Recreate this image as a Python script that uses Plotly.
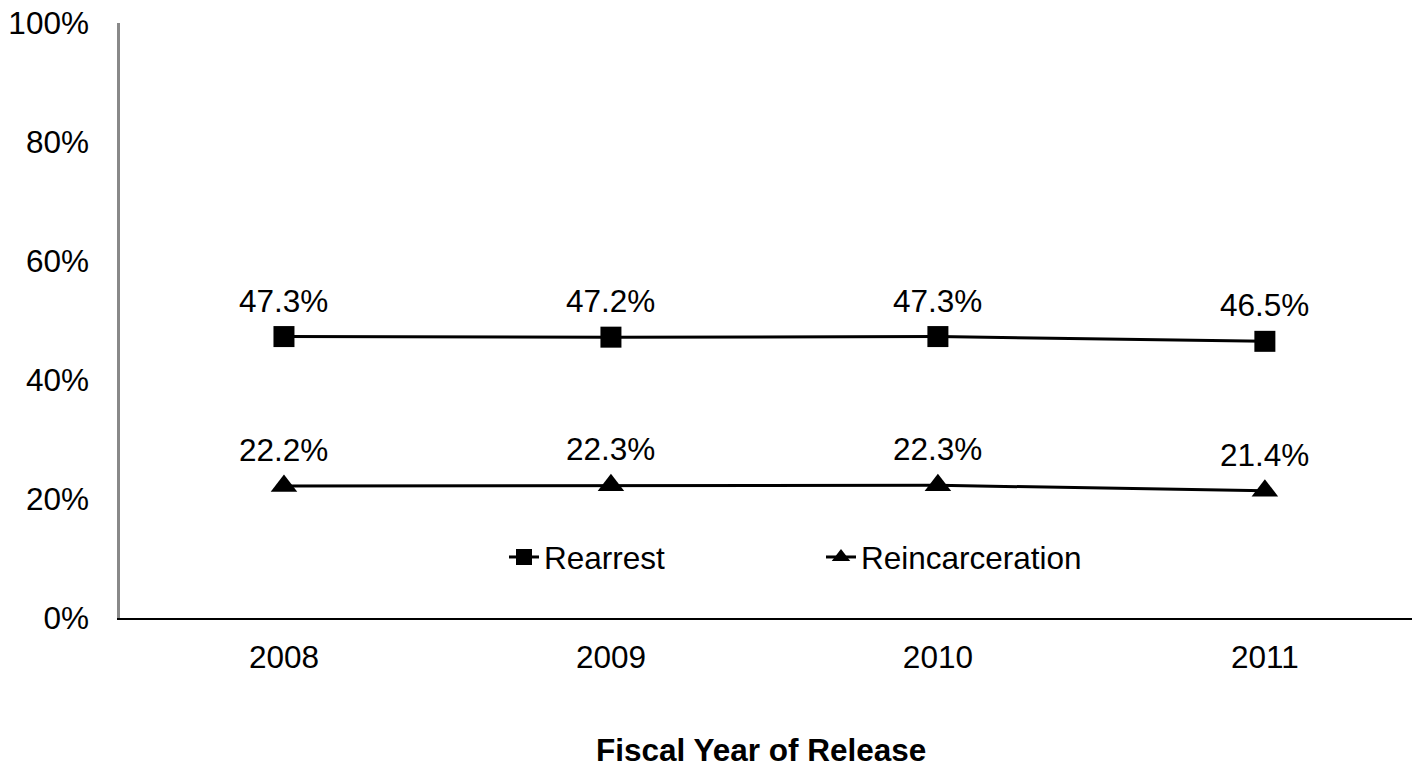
import plotly.graph_objects as go

years = ["2008", "2009", "2010", "2011"]
rearrest = [0.473, 0.472, 0.473, 0.465]
reincarceration = [0.222, 0.223, 0.223, 0.214]
y_ticks = [0, 0.2, 0.4, 0.6, 0.8, 1.0]
y_tick_labels = ["0%", "20%", "40%", "60%", "80%", "100%"]

FONT = "Liberation Sans, Arial, sans-serif"
FS = 31.5

xs = list(range(len(years)))

fig = go.Figure()
fig.add_trace(go.Scatter(
    x=xs, y=rearrest, name="Rearrest", mode="lines+markers",
    line=dict(color="black", width=3),
    marker=dict(symbol="square", size=21, color="black"),
))
fig.add_trace(go.Scatter(
    x=xs, y=reincarceration, name="Reincarceration", mode="lines+markers",
    line=dict(color="black", width=3),
    marker=dict(symbol="triangle-up", size=23, color="black"),
))

# value labels above each point
annotations = []
for series in (rearrest, reincarceration):
    for xi, v in zip(xs, series):
        annotations.append(dict(
            x=xi, y=v, xref="x", yref="y", text=f"{v * 100:.1f}%",
            showarrow=False, yanchor="middle", yshift=36,
            font=dict(family=FONT, size=FS, color="black"),
        ))

annotations.append(dict(
    x=(761 - 120) / 1292, y=-0.222, xref="paper", yref="paper",
    text="<b>Fiscal Year of Release</b>", showarrow=False,
    xanchor="center", yanchor="middle",
    font=dict(family=FONT, size=FS, color="black"),
))

fig.update_layout(
    width=1412, height=768,
    margin=dict(l=120, r=0, t=23, b=150),
    paper_bgcolor="white", plot_bgcolor="white",
    font=dict(family=FONT, size=FS, color="black"),
    showlegend=True,
    legend=dict(
        orientation="h", x=(504 - 120) / 1292, xanchor="left",
        y=(618 - 557) / 595, yanchor="middle",
        bgcolor="rgba(0,0,0,0)", entrywidthmode="pixels", entrywidth=272,
        font=dict(family=FONT, size=FS, color="black"),
    ),
    annotations=annotations,
    xaxis=dict(
        range=[-0.5015, 3.450], tickvals=xs, ticktext=years,
        showgrid=False, zeroline=False, showline=True,
        linecolor="black", linewidth=1.5, ticks="",
        ticklabelstandoff=10,
        tickfont=dict(family=FONT, size=FS, color="black"),
    ),
    yaxis=dict(
        range=[0, 1], tickvals=y_ticks, ticktext=y_tick_labels,
        showgrid=False, zeroline=False, showline=True,
        linecolor="#898989", linewidth=2.5, ticks="",
        ticklabelstandoff=22,
        tickfont=dict(family=FONT, size=FS, color="black"),
    ),
)

fig.write_html("out.html")
